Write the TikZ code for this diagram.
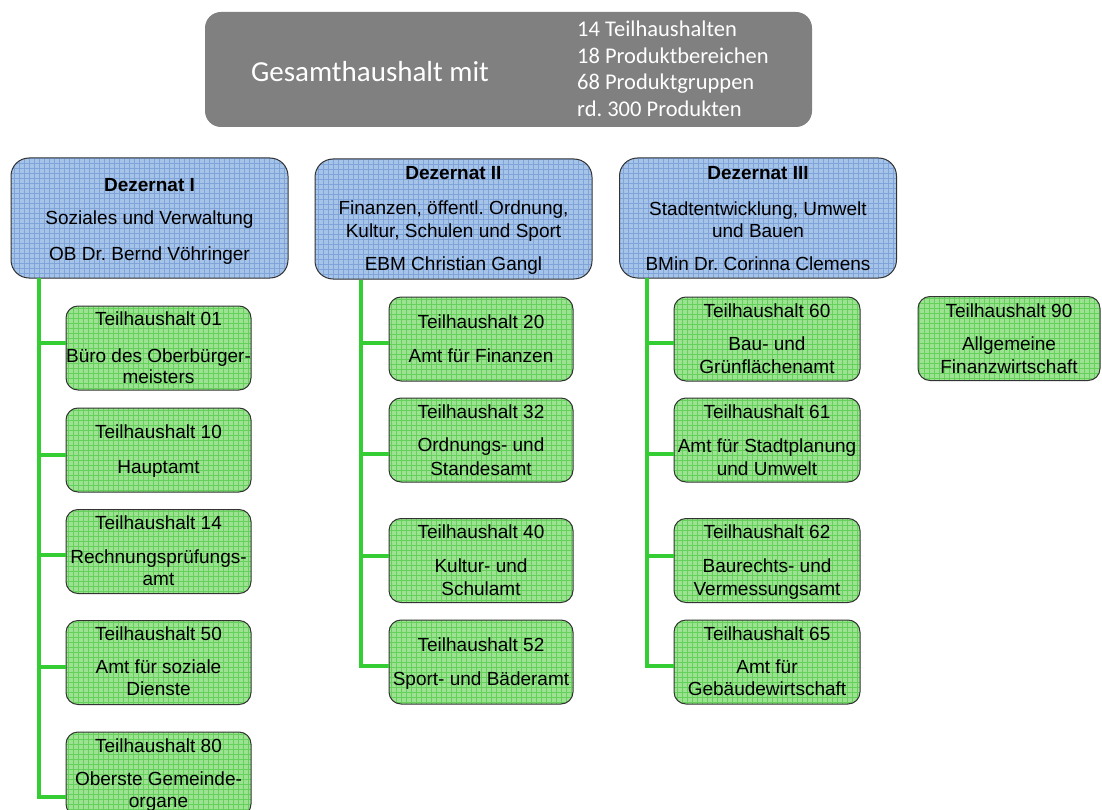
\documentclass[tikz,border=0pt]{standalone}
\usepackage{fontspec}
\setmainfont{Liberation Sans}
\newfontfamily\calib{Carlito}
\frenchspacing
\definecolor{dezblue}{RGB}{166,195,232}
\definecolor{dezgrid}{RGB}{128,164,218}
\definecolor{thgreen}{RGB}{156,226,146}
\definecolor{thgrid}{RGB}{100,210,90}
\definecolor{conngreen}{RGB}{52,206,52}
\definecolor{topgray}{RGB}{128,128,128}
\tikzset{
  dez/.style={draw=black!80, line width=1pt, rounded corners=18pt, fill=dezblue,
    minimum width=277pt, minimum height=120pt, inner sep=0pt,
    path picture={\draw[dezgrid, line width=0.3pt, step=5pt]
      (path picture bounding box.south west) grid (path picture bounding box.north east);}},
  thbox/.style={draw=black!80, line width=1pt, rounded corners=12pt, fill=thgreen,
    minimum height=84pt, inner sep=0pt,
    path picture={\draw[thgrid, line width=0.3pt, step=5pt]
      (path picture bounding box.south west) grid (path picture bounding box.north east);}},
  txt/.style={inner sep=0pt, font=\fontsize{19}{22}\selectfont, text=black,
    text height=13.5pt, text depth=3.5pt},
  toptxt/.style={inner sep=0pt, text=white, font=\calib\fontsize{22.5}{27}\selectfont, anchor=base west},
  conn/.style={draw=conngreen, line width=4pt},
}
\begin{document}
\begin{tikzpicture}[x=1pt, y=-1pt]
\useasboundingbox (0,0) rectangle (1102,810);
% top box
\node[fill=topgray, rounded corners=16pt, minimum width=607pt, minimum height=115pt, inner sep=0pt] (ges) at (508.5,69.5) {};
\node[inner sep=0pt, text=white, font=\calib\fontsize{29}{34}\selectfont, anchor=base] (gesT) at (370,82) {Gesamthaushalt mit};
\node[toptxt] (l1) at (577,37) {14 Teilhaushalten};
\node[toptxt] (l2) at (577,64) {18 Produktbereichen};
\node[toptxt] (l3) at (577,90) {68 Produktgruppen};
\node[toptxt] (l4) at (577,117) {rd. 300 Produkten};

% connectors
\coordinate (c1) at (39,278);
\coordinate (c2) at (361,280);
\coordinate (c3) at (647,278);

% Dezernate
\node[dez] (dez1) at (149.5,218) {};
\node[dez] (dez2) at (453.5,219) {};
\node[dez] (dez3) at (758,218) {};
\node[txt] (d1a) at (149.5,187) {\bfseries Dezernat I};
\node[txt] (d1b) at (149.5,220) {Soziales und Verwaltung};
\node[txt] (d1c) at (149.5,255) {OB Dr. Bernd Vöhringer};
\node[txt] (d2a) at (453.5,175) {\bfseries Dezernat II};
\node[txt] (d2b) at (453.5,210) {Finanzen, öffentl. Ordnung,};
\node[txt] (d2c) at (453.5,232) {Kultur, Schulen und Sport};
\node[txt] (d2d) at (453.5,265) {EBM Christian Gangl};
\node[txt] (d3a) at (758,175) {\bfseries Dezernat III};
\node[txt] (d3b) at (758,211) {Stadtentwicklung, Umwelt};
\node[txt] (d3c) at (758,232) {und Bauen};
\node[txt] (d3d) at (758,265) {BMin Dr. Corinna Clemens};

% Column I
\node[thbox, minimum width=185pt] (th01) at (158.5,348) {};
\node[thbox, minimum width=185pt] (th10) at (158.5,450) {};
\node[thbox, minimum width=185pt] (th14) at (158.5,551.5) {};
\node[thbox, minimum width=185pt] (th50) at (158.5,662.5) {};
\node[thbox, minimum width=185pt] (th80) at (158.5,774) {};
% Column II
\node[thbox, minimum width=184pt] (th20) at (481,339) {};
\node[thbox, minimum width=184pt] (th32) at (481,440) {};
\node[thbox, minimum width=184pt] (th40) at (481,560.5) {};
\node[thbox, minimum width=184pt] (th52) at (481,662) {};
% Column III
\node[thbox, minimum width=186pt] (th60) at (767,339) {};
\node[thbox, minimum width=186pt] (th61) at (767,440) {};
\node[thbox, minimum width=186pt] (th62) at (767,560.5) {};
\node[thbox, minimum width=186pt] (th65) at (767,662) {};
% TH 90
\node[thbox, minimum width=182pt] (th90) at (1009,338.5) {};

% texts column I
\node[txt] (t01a) at (158.5,320) {Teilhaushalt 01};
\node[txt] (t01b) at (158.5,357) {Büro des Oberbürger-};
\node[txt] (t01c) at (158.5,378) {meisters};
\node[txt] (t10a) at (158.5,433) {Teilhaushalt 10};
\node[txt] (t10b) at (158.5,468) {Hauptamt};
\node[txt] (t14a) at (158.5,524) {Teilhaushalt 14};
\node[txt] (t14b) at (158.5,558) {Rechnungsprüfungs-};
\node[txt] (t14c) at (158.5,580) {amt};
\node[txt] (t50a) at (158.5,635) {Teilhaushalt 50};
\node[txt] (t50b) at (158.5,668) {Amt für soziale};
\node[txt] (t50c) at (158.5,690) {Dienste};
\node[txt] (t80a) at (158.5,747) {Teilhaushalt 80};
\node[txt] (t80b) at (158.5,780) {Oberste Gemeinde-};
\node[txt] (t80c) at (158.5,802) {organe};
% texts column II
\node[txt] (t20a) at (481,323) {Teilhaushalt 20};
\node[txt] (t20b) at (481,357) {Amt für Finanzen};
\node[txt] (t32a) at (481,413) {Teilhaushalt 32};
\node[txt] (t32b) at (481,446) {Ordnungs- und};
\node[txt] (t32c) at (481,470) {Standesamt};
\node[txt] (t40a) at (481,533) {Teilhaushalt 40};
\node[txt] (t40b) at (481,567) {Kultur- und};
\node[txt] (t40c) at (481,590) {Schulamt};
\node[txt] (t52a) at (481,646) {Teilhaushalt 52};
\node[txt] (t52b) at (481,680) {Sport- und Bäderamt};
% texts column III
\node[txt] (t60a) at (767,312) {Teilhaushalt 60};
\node[txt] (t60b) at (767,345) {Bau- und};
\node[txt] (t60c) at (767,368) {Grünflächenamt};
\node[txt] (t61a) at (767,413) {Teilhaushalt 61};
\node[txt] (t61b) at (767,447) {Amt für Stadtplanung};
\node[txt] (t61c) at (767,470) {und Umwelt};
\node[txt] (t62a) at (767,533) {Teilhaushalt 62};
\node[txt] (t62b) at (767,567) {Baurechts- und};
\node[txt] (t62c) at (767,590) {Vermessungsamt};
\node[txt] (t65a) at (767,635) {Teilhaushalt 65};
\node[txt] (t65b) at (767,668) {Amt für};
\node[txt] (t65c) at (767,690) {Gebäudewirtschaft};
% texts TH 90
\node[txt] (t90a) at (1009,312) {Teilhaushalt 90};
\node[txt] (t90b) at (1009,345) {Allgemeine};
\node[txt] (t90c) at (1009,368) {Finanzwirtschaft};

% branch end points on box edges
\coordinate (b01) at (66,343);
\coordinate (b10) at (66,455);
\coordinate (b14) at (66,555);
\coordinate (b50) at (66,667);
\coordinate (b80) at (66,797);
\coordinate (b20) at (389,343);
\coordinate (b32) at (389,454);
\coordinate (b40) at (389,556);
\coordinate (b52) at (389,666);
\coordinate (b60) at (674,343);
\coordinate (b61) at (674,454);
\coordinate (b62) at (674,556);
\coordinate (b65) at (674,666);

\draw[conn] (c1) |- (b80);
\foreach \b in {b01,b10,b14,b50} \draw[conn] (c1 |- \b) -- (\b);
\draw[conn] (c2) |- (b52);
\foreach \b in {b20,b32,b40} \draw[conn] (c2 |- \b) -- (\b);
\draw[conn] (c3) |- (b65);
\foreach \b in {b60,b61,b62} \draw[conn] (c3 |- \b) -- (\b);
\end{tikzpicture}
\end{document}
